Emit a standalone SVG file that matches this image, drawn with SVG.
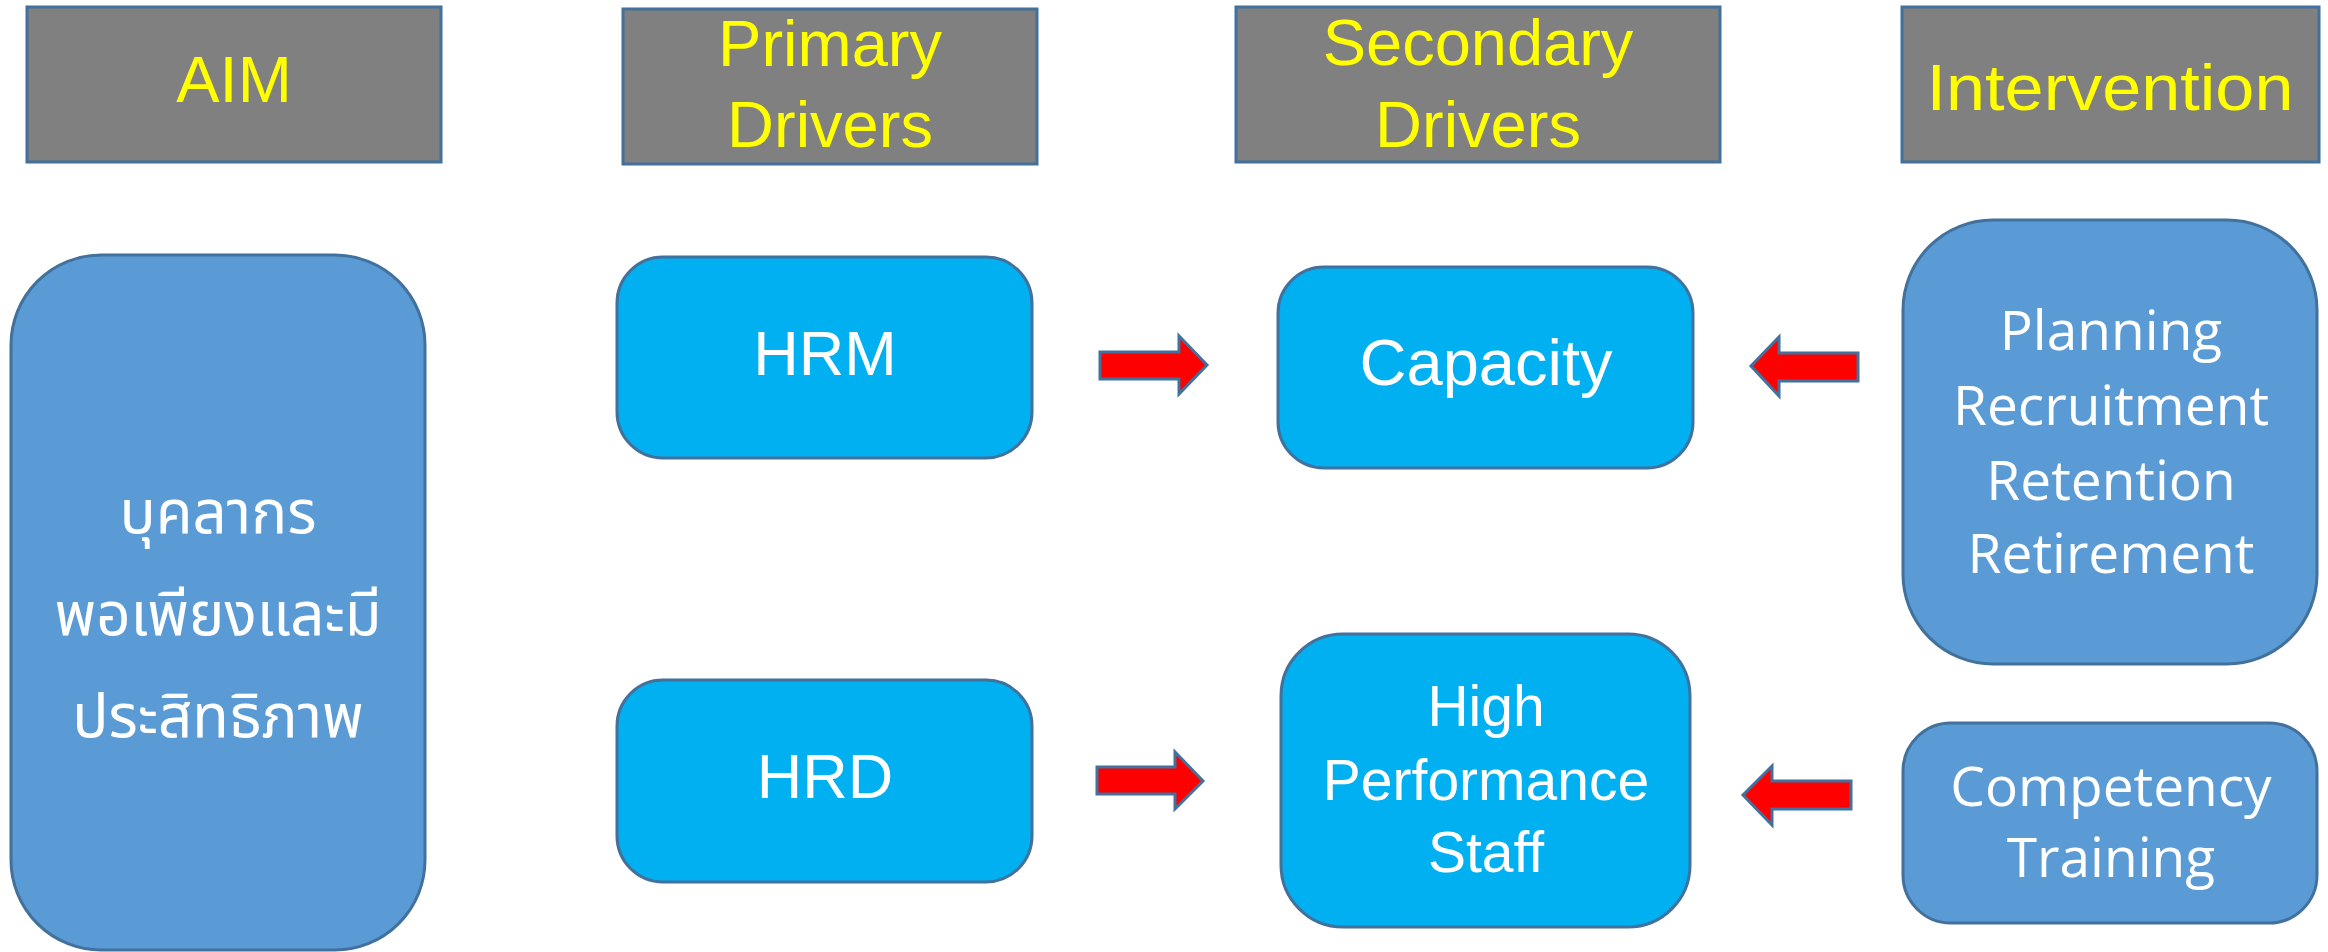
<svg xmlns="http://www.w3.org/2000/svg" width="2328" height="952" viewBox="0 0 2328 952">
  <style>
    .hdr { fill: #808080; stroke: #41719C; stroke-width: 3; }
    .hdr-t { fill: #FFFF00; font-family: "Liberation Sans", Arial, sans-serif; font-size: 65px; text-anchor: middle; }
    .aim { fill: #5B9BD5; stroke: #41719C; stroke-width: 3; }
    .drv { fill: #00B0F0; stroke: #41719C; stroke-width: 3; }
    .txt { fill: #FFFFFF; font-family: "Liberation Sans", Arial, sans-serif; text-anchor: middle; }
    .int-t { fill: #FFFFFF; font-family: "Open Sans", "Noto Sans", sans-serif; font-size: 55px; text-anchor: middle; }
    .thai { fill: #FFFFFF; font-family: "Noto Sans Thai", "Leelawadee UI", Tahoma, "DejaVu Sans", sans-serif; font-size: 60px; text-anchor: middle; }
    .arrow { fill: #FF0000; stroke: #41719C; stroke-width: 3; stroke-linejoin: miter; }
  </style>

  <!-- Column headers -->
  <g id="header-aim">
    <rect class="hdr" x="27" y="7" width="414" height="155"/>
    <text class="hdr-t" x="234" y="102">AIM</text>
  </g>
  <g id="header-primary">
    <rect class="hdr" x="623" y="9" width="414" height="155"/>
    <text class="hdr-t" x="830" y="66">Primary</text>
    <text class="hdr-t" x="830" y="147">Drivers</text>
  </g>
  <g id="header-secondary">
    <rect class="hdr" x="1236" y="7" width="484" height="155"/>
    <text class="hdr-t" x="1478" y="65">Secondary</text>
    <text class="hdr-t" x="1478" y="147">Drivers</text>
  </g>
  <g id="header-intervention">
    <rect class="hdr" x="1902" y="7" width="417" height="155"/>
    <text class="hdr-t" x="2110" y="110" textLength="367" lengthAdjust="spacingAndGlyphs">Intervention</text>
  </g>

  <!-- Aim -->
  <g id="aim">
    <rect class="aim" x="11" y="255" width="414" height="695" rx="90" ry="90"/>
    <text class="thai" x="218" y="533">บุคลากร</text>
    <text class="thai" x="218" y="635">พอเพียงและมี</text>
    <text class="thai" x="218" y="737">ประสิทธิภาพ</text>
  </g>

  <!-- Primary drivers -->
  <g id="hrm">
    <rect class="drv" x="617" y="257" width="415" height="201" rx="46" ry="46"/>
    <text class="txt" x="825" y="375" font-size="63">HRM</text>
  </g>
  <g id="hrd">
    <rect class="drv" x="617" y="680" width="415" height="202" rx="46" ry="46"/>
    <text class="txt" x="825" y="798" font-size="63">HRD</text>
  </g>

  <!-- Secondary drivers -->
  <g id="capacity">
    <rect class="drv" x="1278" y="267" width="415" height="201" rx="46" ry="46"/>
    <text class="txt" x="1486" y="385" font-size="65">Capacity</text>
  </g>
  <g id="high-performance-staff">
    <rect class="drv" x="1281" y="634" width="409" height="293" rx="62" ry="62"/>
    <text class="txt" x="1486" y="726" font-size="57">High</text>
    <text class="txt" x="1486" y="800" font-size="57">Performance</text>
    <text class="txt" x="1486" y="872" font-size="57">Staff</text>
  </g>

  <!-- Interventions -->
  <g id="planning">
    <rect class="aim" x="1903" y="220" width="414" height="444" rx="90" ry="90"/>
    <text class="int-t" x="2111" y="350">Planning</text>
    <text class="int-t" x="2111" y="425">Recruitment</text>
    <text class="int-t" x="2111" y="500">Retention</text>
    <text class="int-t" x="2111" y="573">Retirement</text>
  </g>
  <g id="competency">
    <rect class="aim" x="1903" y="723" width="414" height="200" rx="48" ry="48"/>
    <text class="int-t" x="2111" y="806">Competency</text>
    <text class="int-t" x="2111" y="877">Training</text>
  </g>

  <!-- Block arrows -->
  <g id="connectors">
    <polygon class="arrow" points="1100,352 1179,352 1179,336 1207,365 1179,394 1179,379 1100,379"/>
    <polygon class="arrow" points="1097,767 1175,767 1175,752 1203,781 1175,809 1175,794 1097,794"/>
    <polygon class="arrow" points="1858,353 1779,353 1779,337 1751,366 1779,396 1779,381 1858,381"/>
    <polygon class="arrow" points="1851,781 1772,781 1772,766 1743,795 1772,825 1772,809 1851,809"/>
  </g>
</svg>
